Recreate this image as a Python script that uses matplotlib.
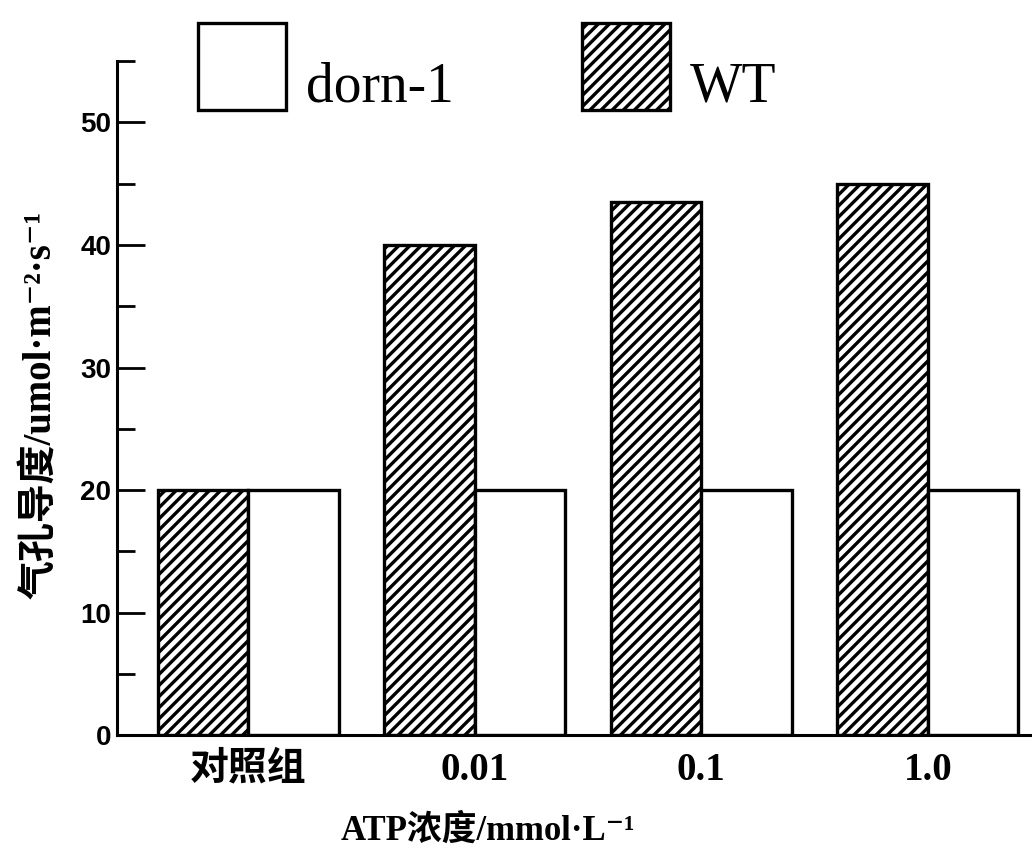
import numpy as np
import matplotlib
matplotlib.use("Agg")
import matplotlib.pyplot as plt
from matplotlib.transforms import ScaledTranslation

plt.rcParams["hatch.linewidth"] = 2.4
plt.rcParams["axes.unicode_minus"] = False

# 数据
groups = ["对照组", "0.01", "0.1", "1.0"]
wt_vals = [20, 40, 43.5, 45]
dorn_vals = [20, 20, 20, 20]

serif_cjk = ["Liberation Serif", "Noto Sans CJK SC", "DejaVu Serif"]

fig = plt.figure(figsize=(10.32, 8.5), dpi=100)
ax = fig.add_axes([0.1134, 0.135, 0.8866, 0.793])

x = np.arange(len(groups))
w = 0.40
b_wt = ax.bar(x - w / 2, wt_vals, w, color="white", edgecolor="black",
              linewidth=2.4, hatch="///", label="WT")
b_dorn = ax.bar(x + w / 2, dorn_vals, w, color="white", edgecolor="black",
                linewidth=2.4, label="dorn-1")

ax.set_xlim(-0.58, 3.46)
ax.set_ylim(0, 55)

# 坐标轴
ax.spines["top"].set_visible(False)
ax.spines["right"].set_visible(False)
ax.spines["left"].set_linewidth(2.2)
ax.spines["bottom"].set_linewidth(2.2)

ax.set_yticks([0, 10, 20, 30, 40, 50])
ax.set_yticks([5, 15, 25, 35, 45, 55], minor=True)
ax.tick_params(axis="y", which="major", direction="in", length=20, width=2, pad=4)
ax.tick_params(axis="y", which="minor", direction="in", length=13, width=2)
for t in ax.get_yticklabels():
    t.set_family(["Liberation Sans Narrow", "Liberation Sans", "DejaVu Sans"])
    t.set_fontweight("bold")
    t.set_fontsize(20)

ax.set_xticks(x)
ax.set_xticklabels(groups)
ax.tick_params(axis="x", length=0, pad=12)
for t in ax.get_xticklabels():
    t.set_family(serif_cjk)
    t.set_fontweight("bold")
    t.set_fontsize(28)

ax.set_ylabel("气孔导度/umol·m⁻²·s⁻¹", family=serif_cjk, fontsize=28,
              fontweight="bold")
ax.yaxis.set_label_coords(-0.062, 0.49)
ax.set_xlabel("ATP浓度/mmol·L⁻¹", family=serif_cjk, fontsize=25,
              fontweight="bold")
ax.xaxis.set_label_coords(0.405, -0.118)

# 图例：dorn-1 在前
leg = fig.legend([b_dorn, b_wt], ["dorn-1", "WT"], loc="upper left",
                 bbox_to_anchor=(0.143, 1.032), ncol=2, frameon=False,
                 handlelength=1.6, handleheight=2.05, handletextpad=0.35,
                 columnspacing=2.3, prop={"family": "Liberation Serif", "size": 40})
# 文字往下挪一点，贴近方框底边
for t in leg.get_texts():
    t.set_transform(t.get_transform() + ScaledTranslation(0, -0.17, fig.dpi_scale_trans))

fig.savefig("out.png", dpi=100)
